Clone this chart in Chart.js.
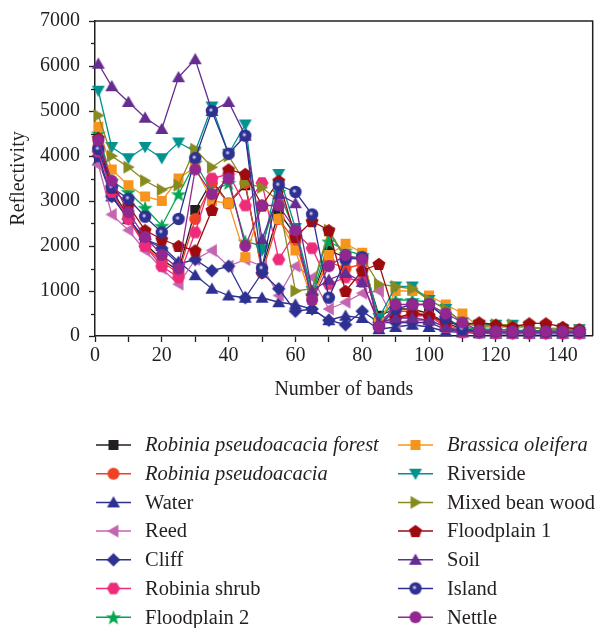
<!DOCTYPE html>
<html>
<head>
<meta charset="utf-8">
<script src="https://cdn.jsdelivr.net/npm/chart.js@4.4.1/dist/chart.umd.min.js"></script>
<style>
  html, body { margin: 0; padding: 0; background: #fff; }
  #wrap { width: 600px; height: 628px; position: relative; }
</style>
</head>
<body>
<div id="wrap"><canvas id="c" width="600" height="628"></canvas></div>
<script>
const bands = [1,5,10,15,20,25,30,35,40,45,50,55,60,65,70,75,80,85,90,95,100,105,110,115,120,125,130,135,140,145];
const xTickLabels = [0,20,40,60,80,100,120,140];
const yTickLabels = [0,1000,2000,3000,4000,5000,6000,7000];

const seriesNames = ["Robinia pseudoacacia forest","Robinia pseudoacacia","Water","Reed","Cliff","Robinia shrub","Floodplain 2",
  "Brassica oleifera","Riverside","Mixed bean wood","Floodplain 1","Soil","Island","Nettle"];

const forest   = [4300,3250,2650,2050,1700,1450,2800,3450,2950,3350,1500,2750,2250,850,1900,1750,1700,450,600,600,500,300,150,120,100,100,100,100,90,90];
const robinia  = [4200,3150,2650,2000,1650,1400,2600,3400,2950,3400,1400,2600,2100,900,1650,1500,1600,350,550,550,450,250,130,110,100,100,90,90,90,90];
const water    = [3900,3100,2600,2150,2000,1650,1350,1050,900,850,850,750,700,600,350,450,400,150,200,250,200,100,80,60,50,50,50,50,50,50];
const reed     = [3800,2700,2350,1900,1500,1150,1700,1900,1550,1700,1550,900,1550,1300,600,750,950,1000,300,350,350,200,130,100,90,80,80,80,70,70];
const cliff    = [4000,3100,2600,2150,1950,1600,1700,1450,1550,850,1400,1050,550,600,350,250,550,300,300,300,300,150,100,80,70,60,60,60,60,60];
const shrub    = [4100,3200,2600,2000,1550,1300,2300,3500,3600,2900,3400,1700,2300,1950,1150,1300,1200,250,400,450,450,200,80,70,60,60,60,60,60,60];
const flood2   = [4500,3450,3200,2850,2450,3150,3850,3200,3400,2100,2000,3200,2300,900,2100,1900,1800,350,800,800,750,400,200,150,150,130,120,120,110,110];
const brassica = [4650,3700,3350,3100,3000,3500,3750,3000,2950,1750,2900,2600,1900,800,1800,2050,1850,300,1000,1000,900,700,500,200,200,200,180,180,170,150];
const riverside= [5450,4200,3950,4200,3950,4300,4100,5100,4050,4700,1900,3600,2400,1000,2300,1750,1700,400,1100,1100,800,600,300,250,250,250,200,150,150,150];
const bean     = [4900,4000,3750,3450,3250,3350,4150,3750,4000,3400,3300,3000,1000,1050,2350,1750,1750,1150,1100,1050,800,600,300,200,250,250,200,150,150,120];
const flood1   = [4400,3300,2900,2350,2150,2000,1900,2800,3700,3600,2900,3450,2200,2550,2350,1000,1450,1600,400,500,450,300,250,300,250,200,280,280,200,150];
const soil     = [6050,5550,5200,4850,4600,5750,6150,5000,5200,4450,2150,3150,2950,1000,1250,1400,1200,300,400,400,350,200,100,100,100,100,100,100,100,100];
const island   = [4150,3300,3050,2650,2300,2600,3950,5000,4050,4450,1500,3350,3200,2700,850,1700,1750,200,600,700,700,400,150,100,100,90,90,90,90,90];
const nettle   = [4350,3450,2750,2200,1800,1500,3700,3150,3500,2000,2900,2900,2350,800,1550,1800,1700,200,700,700,700,500,300,120,100,100,100,100,100,100];

const seriesValues = [forest,robinia,water,reed,cliff,shrub,flood2,brassica,riverside,bean,flood1,soil,island,nettle];
const seriesColors = ["#231f20","#ef4123","#2e3192","#c465b1","#2e3192","#ee2a7b","#00a651",
  "#f7941d","#00928f","#878a1f","#9e0b0f","#662d91","#2e3192","#92278f"];
const seriesShapes = ["square","circle","triUp","triLeft","diamond","hexagon","star",
  "square","triDown","triRight","pentagon","triUp","island","circle"];
const italicNames = [true,true,false,false,false,false,false,true,false,false,false,false,false,false];

function polygon(ctx, cx, cy, r, n, rot) {
  ctx.beginPath();
  for (let k = 0; k < n; k++) {
    const a = rot + k * 2 * Math.PI / n;
    const px = cx + r * Math.cos(a), py = cy + r * Math.sin(a);
    if (k === 0) ctx.moveTo(px, py); else ctx.lineTo(px, py);
  }
  ctx.closePath();
  ctx.fill();
}
function makeMarker(shape, color) {
  const S = 18, c = S / 2;
  const cv = document.createElement('canvas');
  cv.width = S; cv.height = S;
  const ctx = cv.getContext('2d');
  ctx.fillStyle = color;
  switch (shape) {
    case 'square': ctx.fillRect(c - 5, c - 5, 10, 10); break;
    case 'circle': ctx.beginPath(); ctx.arc(c, c, 6, 0, Math.PI * 2); ctx.fill(); break;
    case 'island': {
      ctx.beginPath(); ctx.arc(c, c, 6.2, 0, Math.PI * 2); ctx.fill();
      const g = ctx.createRadialGradient(c - 1, c - 1, 0, c - 1, c - 1, 2.6);
      g.addColorStop(0, 'rgba(235,235,250,1)');
      g.addColorStop(0.5, 'rgba(170,172,215,0.9)');
      g.addColorStop(1, 'rgba(46,49,146,0)');
      ctx.fillStyle = g;
      ctx.beginPath(); ctx.arc(c - 1, c - 1, 2.6, 0, Math.PI * 2); ctx.fill();
      break;
    }
    case 'triUp': polygon(ctx, c, c + 1.2, 7.5, 3, -Math.PI / 2); break;
    case 'triDown': polygon(ctx, c, c - 1.2, 7.5, 3, Math.PI / 2); break;
    case 'triLeft': polygon(ctx, c + 1.2, c, 7.5, 3, Math.PI); break;
    case 'triRight': polygon(ctx, c - 1.2, c, 7.5, 3, 0); break;
    case 'diamond': polygon(ctx, c, c, 6.8, 4, 0); break;
    case 'hexagon': polygon(ctx, c, c, 6.6, 6, 0); break;
    case 'pentagon': polygon(ctx, c, c + 0.5, 6.8, 5, -Math.PI / 2); break;
    case 'star': {
      ctx.beginPath();
      for (let k = 0; k < 10; k++) {
        const r = k % 2 === 0 ? 8 : 3.3;
        const a = -Math.PI / 2 + k * Math.PI / 5;
        const px = c + r * Math.cos(a), py = c + 0.8 + r * Math.sin(a);
        if (k === 0) ctx.moveTo(px, py); else ctx.lineTo(px, py);
      }
      ctx.closePath(); ctx.fill();
      break;
    }
  }
  return cv;
}
const markers = seriesShapes.map((s, i) => makeMarker(s, seriesColors[i]));

const N = seriesNames.length;
const datasets = seriesNames.map((name, i) => ({
  label: name,
  data: bands.map((b, j) => ({ x: b, y: seriesValues[i][j] })),
  borderColor: seriesColors[i],
  backgroundColor: seriesColors[i],
  borderWidth: 1.3,
  pointStyle: markers[i],
  pointRadius: 6,
  pointHoverRadius: 6,
  tension: 0,
  clip: false,
  order: N - i
}));

const FONT = "'Liberation Serif', 'DejaVu Serif', serif";

const framePlugin = {
  id: 'frame',
  afterDraw(chart) {
    const { ctx, chartArea: a } = chart;
    const ys = chart.scales.y;
    ctx.save();
    ctx.strokeStyle = '#231f20';
    ctx.lineWidth = 1.5;
    ctx.beginPath();
    ctx.moveTo(a.left, a.top); ctx.lineTo(a.right, a.top); ctx.lineTo(a.right, a.bottom);
    ctx.stroke();
    // minor y ticks
    ctx.lineWidth = 1.3;
    for (let v = 500; v < 7000; v += 1000) {
      const py = Math.round(ys.getPixelForValue(v)) + 0.5;
      ctx.beginPath(); ctx.moveTo(a.left, py); ctx.lineTo(a.left - 4, py); ctx.stroke();
    }
    ctx.restore();

    // legend
    ctx.save();
    const rowY0 = 445, rowH = 28.7;
    for (let i = 0; i < N; i++) {
      const col = i < 7 ? 0 : 1;
      const row = i % 7;
      const y = rowY0 + row * rowH;
      const x0 = col === 0 ? 96 : 398;
      ctx.strokeStyle = seriesColors[i];
      ctx.lineWidth = 1.5;
      ctx.beginPath(); ctx.moveTo(x0, y); ctx.lineTo(x0 + 35, y); ctx.stroke();
      const m = markers[i];
      ctx.drawImage(m, x0 + 17.5 - m.width / 2, y - m.height / 2);
      ctx.fillStyle = '#231f20';
      ctx.font = (italicNames[i] ? 'italic ' : '') + "20.5px " + FONT;
      ctx.textBaseline = 'middle';
      ctx.textAlign = 'left';
      ctx.fillText(seriesNames[i], x0 + 49, y + 1);
    }
    ctx.restore();
  }
};

new Chart(document.getElementById('c'), {
  type: 'line',
  data: { datasets },
  options: {
    responsive: false,
    animation: false,
    events: [],
    layout: { padding: { left: 0, right: 3, top: 19, bottom: 226 } },
    plugins: { legend: { display: false }, tooltip: { enabled: false } },
    scales: {
      x: {
        type: 'linear',
        min: 0, max: 149,
        border: { color: '#231f20', width: 1.5 },
        grid: { drawOnChartArea: false, drawTicks: true, tickLength: 6, tickColor: '#231f20', tickWidth: 1.3 },
        ticks: {
          stepSize: 10, includeBounds: false, autoSkip: false, maxRotation: 0,
          color: '#231f20', font: { family: FONT, size: 20 }, padding: 2,
          callback: v => xTickLabels.includes(v) ? String(v) : ''
        },
        title: { display: true, text: 'Number of bands', color: '#231f20', font: { family: FONT, size: 20 }, padding: { top: 0, bottom: 0 } },
        afterFit: s => { s.height = 66; }
      },
      y: {
        min: 0, max: 7000,
        border: { color: '#231f20', width: 1.5 },
        grid: { drawOnChartArea: false, drawTicks: true, tickLength: 6, tickColor: '#231f20', tickWidth: 1.3 },
        ticks: {
          stepSize: 1000, color: '#231f20', font: { family: FONT, size: 20 }, padding: 9,
          callback: v => yTickLabels.includes(v) ? String(v) : ''
        },
        title: { display: true, text: 'Reflectivity', color: '#231f20', font: { family: FONT, size: 20 }, padding: { top: 7, bottom: 0 } },
        afterFit: s => { s.width = 95; }
      }
    }
  },
  plugins: [framePlugin]
});
</script>
</body>
</html>
